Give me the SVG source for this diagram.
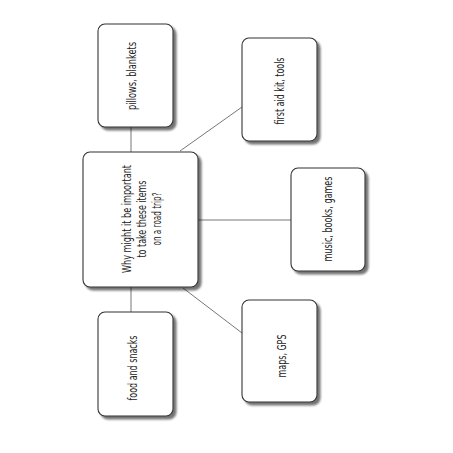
<svg xmlns="http://www.w3.org/2000/svg" width="453" height="453" viewBox="0 0 453 453">
<defs>
<filter id="sh" x="-20%" y="-20%" width="140%" height="140%">
<feGaussianBlur in="SourceAlpha" stdDeviation="1.2" result="b"/>
<feOffset in="b" dx="2.5" dy="2.5" result="o"/>
<feComponentTransfer in="o" result="s"><feFuncA type="linear" slope="0.55"/></feComponentTransfer>
<feMerge><feMergeNode in="s"/><feMergeNode in="SourceGraphic"/></feMerge>
</filter>
</defs>
<style>
.box{fill:#fff;stroke:#333;stroke-width:1.1;filter:url(#sh)}
.lbl{font-family:"Liberation Sans Narrow","DejaVu Sans Condensed","Liberation Sans",sans-serif;font-size:11.5px;fill:#222;text-anchor:middle}
.ln{stroke:#777;stroke-width:1;fill:none}
</style>
<rect width="453" height="453" fill="#fff"/>
<g id="connectors">
<line class="ln" x1="131" y1="127" x2="131" y2="152"/>
<line class="ln" x1="180" y1="151" x2="242" y2="107"/>
<line class="ln" x1="198" y1="220" x2="291" y2="220"/>
<line class="ln" x1="131" y1="287" x2="131" y2="312"/>
<line class="ln" x1="183" y1="288" x2="242" y2="333"/>
</g>
<g id="center">
<rect class="box" x="83" y="152" width="115" height="135" rx="7"/>
<text class="lbl" transform="translate(131,219) rotate(-90)" textLength="108" lengthAdjust="spacingAndGlyphs">Why might it be important</text>
<text class="lbl" transform="translate(146,219) rotate(-90)" textLength="77" lengthAdjust="spacingAndGlyphs">to take these items</text>
<text class="lbl" transform="translate(161,219) rotate(-90)" textLength="53" lengthAdjust="spacingAndGlyphs">on a road trip?</text>
</g>
<g id="pillows">
<rect class="box" x="98" y="24" width="75" height="103" rx="7"/>
<text class="lbl" transform="translate(136,76) rotate(-90)" textLength="68" lengthAdjust="spacingAndGlyphs">pillows, blankets</text>
</g>
<g id="firstaid">
<rect class="box" x="242" y="38" width="75" height="103" rx="7"/>
<text class="lbl" transform="translate(284,91) rotate(-90)" textLength="67" lengthAdjust="spacingAndGlyphs">first aid kit, tools</text>
</g>
<g id="music">
<rect class="box" x="291" y="168" width="74" height="103" rx="7"/>
<text class="lbl" transform="translate(332,219) rotate(-90)" textLength="85" lengthAdjust="spacingAndGlyphs">music, books, games</text>
</g>
<g id="food">
<rect class="box" x="98" y="312" width="75" height="104" rx="7"/>
<text class="lbl" transform="translate(137,368) rotate(-90)" textLength="65" lengthAdjust="spacingAndGlyphs">food and snacks</text>
</g>
<g id="maps">
<rect class="box" x="242" y="300" width="75" height="102" rx="7"/>
<text class="lbl" transform="translate(286,356) rotate(-90)" textLength="43" lengthAdjust="spacingAndGlyphs">maps, GPS</text>
</g>
</svg>
